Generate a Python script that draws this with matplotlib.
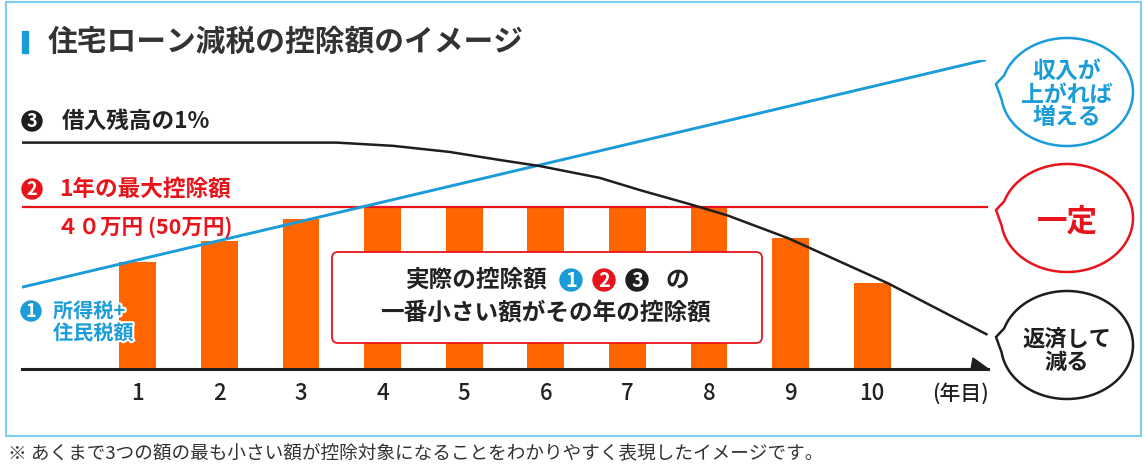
import matplotlib
matplotlib.use("Agg")
import matplotlib.pyplot as plt
import numpy as np
from matplotlib.patches import Rectangle, FancyBboxPatch, Circle, Polygon
import matplotlib.patheffects as pe

plt.rcParams['font.family'] = ['Noto Sans CJK JP', 'DejaVu Sans']

# data (万円)
years = [1, 2, 3, 4, 5, 6, 7, 8, 9, 10]
year_labels = ['1', '2', '3', '4', '5', '6', '7', '8', '9', '10']
deduction = [26.4, 31.6, 37.0, 40, 40, 40, 40, 40, 32.3, 21.2]
max_deduction = 40
tax_x = [-0.42, 11.38]
tax_y = [20.2, 76.3]
balance_x = [-0.42, 3.44, 4.13, 4.82, 5.44, 5.93, 6.66, 7.15, 7.80, 8.23, 8.97, 10.19, 11.40]
balance_y = [55.9, 55.9, 55.1, 53.6, 51.6, 50.1, 47.2, 44.2, 40.5, 37.9, 32.3, 21.2, 8.6]

orange = '#FF6600'
red = '#E8141C'
blue = '#1A9CD8'
black = '#1E1E1E'
frame = '#7CCFEF'

W, H = 1144, 473
fig = plt.figure(figsize=(W / 100, H / 100), dpi=100)

# main chart area
ax = fig.add_axes([22 / W, (H - 369) / H, 966 / W, 309 / H])
ax.bar(years, deduction, width=0.45, color=orange, zorder=2)
ax.axhline(max_deduction, color=red, lw=1.6, zorder=3)
ax.plot(tax_x, tax_y, color=blue, lw=2.1, zorder=4)
ax.plot(balance_x, balance_y, color=black, lw=1.8, zorder=4)
ax.set_xlim(-0.42, 11.42)
ax.set_ylim(0, 76.3)
for s in ['top', 'right', 'left']:
    ax.spines[s].set_visible(False)
ax.spines['bottom'].set_linewidth(2.2)
ax.spines['bottom'].set_color(black)
ax.set_yticks([])
ax.set_xticks(years, year_labels, fontsize=16, fontweight='medium', color='#222')
ax.tick_params(axis='x', length=0, pad=9)
ax.patch.set_alpha(0)

# overlay in pixel coordinates for annotations
ov = fig.add_axes([0, 0, 1, 1], zorder=5)
ov.set_xlim(0, W)
ov.set_ylim(H, 0)
ov.axis('off')

ov.add_patch(Rectangle((6, 2), 1135, 434, fill=False, ec=frame, lw=1.5))
ov.add_patch(Rectangle((22, 31), 6, 22, color=blue))
ov.text(48, 42, '住宅ローン減税の控除額のイメージ', fontsize=21.4, fontweight='bold',
        color='#333333', va='center')

# axis arrow head
ov.add_patch(Polygon([(971, 369.5), (973, 358), (989, 369.5)], closed=True, color=black))
ov.text(960, 394, '(年目)', fontsize=15, fontweight='medium', color='#222',
        ha='center', va='center')


def num_circle(x, y, r, color, label):
    ov.add_patch(Circle((x, y), r, color=color))
    ov.text(x, y + 0.5, label, color='white', fontsize=r * 1.3, fontweight='bold',
            ha='center', va='center')


num_circle(32, 121, 10, black, '3')
ov.text(62, 121, '借入残高の1%', fontsize=16.3, fontweight='bold', color='#222', va='center')
num_circle(32, 189, 10, red, '2')
ov.text(59, 189, '1年の最大控除額', fontsize=16.3, fontweight='bold', color=red, va='center')
ov.text(57, 227, '４０万円 (50万円)', fontsize=15.5, fontweight='bold', color=red, va='center')
num_circle(31, 311, 10, blue, '1')
halo = [pe.withStroke(linewidth=3, foreground='white')]
ov.text(53, 311, '所得税+', fontsize=14.5, fontweight='bold', color=blue, va='center',
        path_effects=halo)
ov.text(53, 333, '住民税額', fontsize=14.5, fontweight='bold', color=blue, va='center',
        path_effects=halo)

# explanation box
ov.add_patch(FancyBboxPatch((332, 252), 430, 91, boxstyle='round,pad=0,rounding_size=6',
                            fc='white', ec=red, lw=1.3))
ov.text(406, 280, '実際の控除額', fontsize=17, fontweight='bold', color='#222', va='center')
num_circle(571, 280, 11, blue, '1')
num_circle(604, 280, 11, red, '2')
num_circle(637, 280, 11, black, '3')
ov.text(677, 280, 'の', fontsize=17, fontweight='bold', color='#222', ha='center', va='center')
ov.text(545, 313, '一番小さい額がその年の控除額', fontsize=17, fontweight='bold', color='#222',
        ha='center', va='center')


def bubble(cx, cy, color, text, size, dy=0, tip_dy=-8):
    a, b = 66, 54
    t = np.radians(np.linspace(-162, 172, 200))
    pts = list(zip(cx + a * np.cos(t), cy + b * np.sin(t)))
    pts.append((cx - a - 5, cy + tip_dy))
    ov.add_patch(Polygon(pts, closed=True, fc='white', ec=color, lw=1.8))
    ov.text(cx, cy + dy, text, fontsize=size, fontweight='bold', color=color,
            ha='center', va='center', linespacing=0.98)


bubble(1067, 92, blue, '収入が\n上がれば\n増える', 16.5, dy=3)
bubble(1067, 218, red, '一定', 22, dy=3)
bubble(1067, 345, black, '返済して\n減る', 16, dy=6)

ov.text(8, 454, '※ あくまで3つの額の最も小さい額が控除対象になることをわかりやすく表現したイメージです。',
        fontsize=13.4, color='#333333', va='center')

fig.savefig('out.png', dpi=100)
